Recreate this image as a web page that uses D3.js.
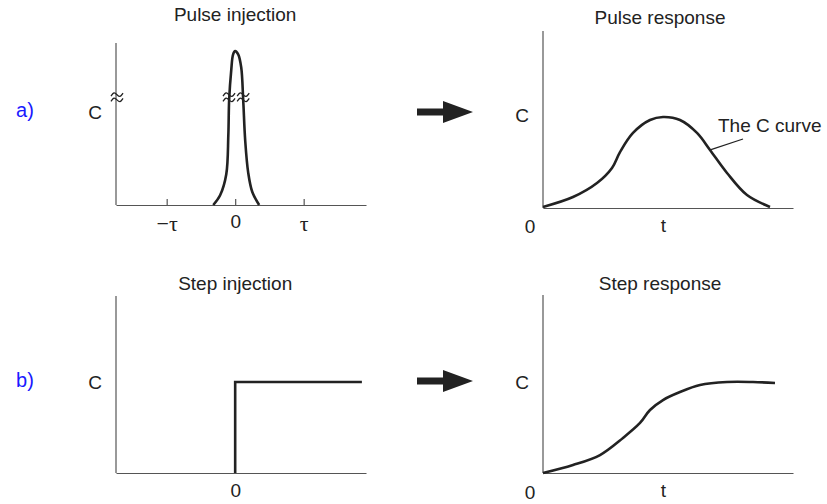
<!DOCTYPE html>
<html>
<head>
<meta charset="utf-8">
<script src="https://cdn.jsdelivr.net/npm/d3@7"></script>
<style>
  body { margin: 0; background: #fff; }
  svg text { font-family: "Liberation Sans", Arial, sans-serif; fill: #222; }
</style>
</head>
<body>
<svg id="chart" width="827" height="504"></svg>
<script>
// pulse injection (x in units of tau, y relative)
const pulseX = [-0.32, -0.22, -0.13, -0.10, -0.088, -0.058, -0.03, 0, 0.044, 0.088, 0.117, 0.146, 0.19, 0.25, 0.35];
const pulseY = [0, 0.06, 0.19, 0.43, 0.65, 0.83, 0.93, 0.95, 0.93, 0.85, 0.65, 0.40, 0.20, 0.08, 0];
const pulseBreak = 0.665;
const injTicks = [-1, 0, 1];
const injTickLabels = ["\u2212\u03c4", "0", "\u03c4"];

// C curve (pulse response)
const cCurveX = [0, 0.12, 0.216, 0.276, 0.308, 0.36, 0.428, 0.48, 0.548, 0.616, 0.668, 0.736, 0.816, 0.908];
const cCurveY = [0.006, 0.062, 0.141, 0.226, 0.316, 0.424, 0.497, 0.514, 0.497, 0.424, 0.328, 0.198, 0.073, 0.006];

// step injection
const stepX = [0, 0, 1.85];
const stepY = [0, 0.514, 0.514];

// step response (F curve)
const stepRespX = [0, 0.12, 0.228, 0.32, 0.388, 0.428, 0.48, 0.548, 0.628, 0.736, 0.84, 0.928];
const stepRespY = [0, 0.045, 0.101, 0.197, 0.281, 0.354, 0.410, 0.455, 0.494, 0.511, 0.511, 0.506];

const svg = d3.select("#chart");
const ink = "#222";
const fs = 19;

function panel(x0, x1, yTop, yBot, xDomain) {
  const x = d3.scaleLinear().domain(xDomain).range([x0, x1]);
  const y = d3.scaleLinear().domain([0, 1]).range([yBot, yTop]);
  const g = svg.append("g");
  g.append("line").attr("x1", x0).attr("x2", x0).attr("y1", yTop).attr("y2", yBot)
    .attr("stroke", "#555").attr("stroke-width", 1.2);
  return { x, y, g, x0, x1, yTop, yBot };
}

function axisX(p, ticks, labels, tickLen, pad) {
  const ax = d3.axisBottom(p.x).tickValues(ticks).tickSizeOuter(0)
    .tickSizeInner(-tickLen).tickPadding(pad)
    .tickFormat((d, i) => labels[i]);
  const a = p.g.append("g").attr("transform", `translate(0,${p.yBot})`).call(ax);
  a.select(".domain").attr("stroke", "#555").attr("stroke-width", 1.2);
  a.selectAll(".tick line").attr("stroke", "#555").attr("stroke-width", 1.2);
  a.selectAll(".tick text").style("fill", ink).each(function(d, i) {
    const serif = labels[i].includes("\u03c4");
    d3.select(this).attr("font-size", serif ? 22 : fs)
      .style("font-family", serif ? "Liberation Serif, Times New Roman, serif" : "Liberation Sans, Arial, sans-serif");
  });
  return a;
}

function curve(p, xs, ys, type) {
  const line = d3.line().x(d => p.x(d[0])).y(d => p.y(d[1])).curve(type);
  p.g.append("path").datum(xs.map((v, i) => [v, ys[i]]))
    .attr("d", line).attr("fill", "none").attr("stroke", ink)
    .attr("stroke-width", 2.6).attr("stroke-linejoin", "miter");
}

function title(cx, text, yy) {
  svg.append("text").attr("x", cx).attr("y", yy).attr("text-anchor", "middle")
    .attr("font-size", fs).text(text);
}

function label(xx, yy, text, opts = {}) {
  return svg.append("text").attr("x", xx).attr("y", yy).attr("dy", "0.35em")
    .attr("text-anchor", opts.anchor || "middle").attr("font-size", opts.size || fs)
    .style("fill", opts.fill || ink).text(text);
}

// wavy break mark (two stacked tildes)
function breakMark(g, cx, cy, w) {
  const wave = d3.line().curve(d3.curveBasis);
  [-2.6, 2.6].forEach(off => {
    const pts = [[cx - w / 2, cy + off + 1.5], [cx - w / 4, cy + off - 3], [cx, cy + off],
                 [cx + w / 4, cy + off + 3], [cx + w / 2, cy + off - 1.5]];
    g.append("path").attr("d", wave(pts)).attr("fill", "none")
      .attr("stroke", ink).attr("stroke-width", 1.3);
  });
}

// ---- a) pulse injection
const pA = panel(116, 366, 43, 205, [-1.74, 1.91]);
axisX(pA, injTicks, injTickLabels, 6, 10);
curve(pA, pulseX, pulseY, d3.curveCatmullRom);
const by = pA.y(pulseBreak);
breakMark(pA.g, pA.x0 + 1, by, 12);
breakMark(pA.g, pA.x(-0.09), by, 12);
breakMark(pA.g, pA.x(0.117), by, 12);
title(pA.x(0), "Pulse injection", 21);
label(95, 112, "C");
label(25, 110, "a)", { fill: "#1a1aff", size: 20 });

// ---- a) pulse response
const pB = panel(543, 793, 31, 208, [0, 1]);
axisX(pB, [0.48], ["t"], 0, 11);
curve(pB, cCurveX, cCurveY, d3.curveCatmullRom);
title(660, "Pulse response", 24);
label(522, 115, "C");
label(pB.x0 - 13, 226, "0");
label(718, 125, "The C curve", { anchor: "start" });
svg.append("line").attr("x1", pB.x(0.672)).attr("y1", pB.y(0.33))
  .attr("x2", 743).attr("y2", 139).attr("stroke", ink).attr("stroke-width", 1.2);

// ---- b) step injection
const pC = panel(116, 366, 296, 473, [-1.74, 1.91]);
axisX(pC, [0], ["0"], 0, 11);
curve(pC, stepX, stepY, d3.curveLinear);
title(pC.x(0), "Step injection", 290);
label(95, 382, "C");
label(25, 380, "b)", { fill: "#1a1aff", size: 20 });

// ---- b) step response
const pD = panel(543, 793, 295, 473, [0, 1]);
axisX(pD, [0.48], ["t"], 0, 11);
curve(pD, stepRespX, stepRespY, d3.curveCatmullRom);
title(660, "Step response", 290);
label(522, 382, "C");
label(pD.x0 - 13, 492, "0");

// arrows
function arrow(xs, ys) {
  const shaft = 3.5, head = 11;
  svg.append("path")
    .attr("d", `M${xs},${ys - shaft}L443,${ys - shaft}L443,${ys - head}L473,${ys}L443,${ys + head}L443,${ys + shaft}L${xs},${ys + shaft}Z`)
    .attr("fill", ink);
}
arrow(417, 112);
arrow(417, 381);
</script>
</body>
</html>
